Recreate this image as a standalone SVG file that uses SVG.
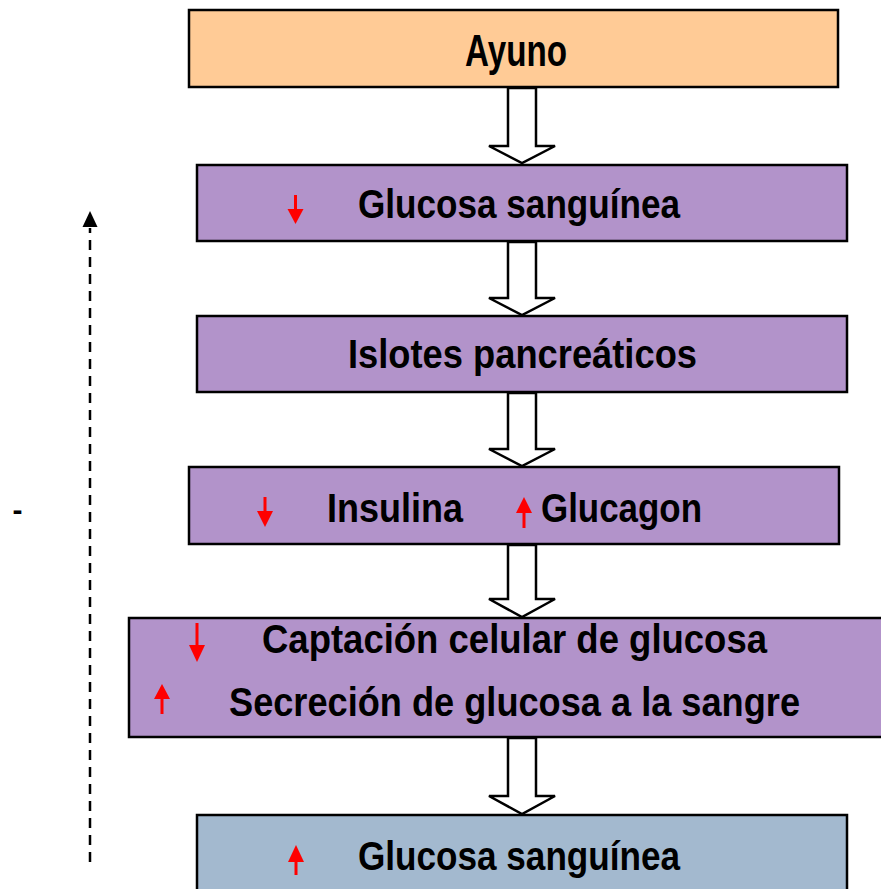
<svg xmlns="http://www.w3.org/2000/svg" width="881" height="889" viewBox="0 0 881 889">
<style>
.box{stroke:#000;stroke-width:2.5}
.orange{fill:#FFCB96}
.purple{fill:#B293CA}
.blue{fill:#A3B9CF}
.t{font-family:"Liberation Sans Narrow","Liberation Sans",sans-serif;font-weight:bold;font-size:40px;fill:#000}
.blk{fill:#fff;stroke:#000;stroke-width:2.5;stroke-linejoin:miter}
.red{stroke:#FF0000;stroke-width:3;fill:none}
.redh{fill:#FF0000}
</style>
<rect width="881" height="889" fill="#fff"/>
<g id="ayuno">
<rect class="box orange" x="189" y="10" width="649" height="77"/>
<text class="t" x="465" y="66" style="font-size:45px" textLength="102" lengthAdjust="spacingAndGlyphs">Ayuno</text>
</g>
<g id="glucosa1">
<rect class="box purple" x="197" y="165" width="650" height="76"/>
<line class="red" x1="295.5" y1="195" x2="295.5" y2="210"/>
<polygon class="redh" points="287.5,209 303.5,209 295.5,224"/>
<text class="t" x="358" y="218" textLength="322" lengthAdjust="spacingAndGlyphs">Glucosa sanguínea</text>
</g>
<g id="islotes">
<rect class="box purple" x="197" y="316" width="650" height="76"/>
<text class="t" x="348" y="368" textLength="349" lengthAdjust="spacingAndGlyphs">Islotes pancreáticos</text>
</g>
<g id="hormonas">
<rect class="box purple" x="189" y="467" width="650" height="77"/>
<line class="red" x1="265" y1="497" x2="265" y2="512"/>
<polygon class="redh" points="257,511 273,511 265,527"/>
<text class="t" x="327" y="522" textLength="136" lengthAdjust="spacingAndGlyphs">Insulina</text>
<line class="red" x1="524" y1="512" x2="524" y2="528"/>
<polygon class="redh" points="516,513 532,513 524,497"/>
<text class="t" x="541" y="522" textLength="161" lengthAdjust="spacingAndGlyphs">Glucagon</text>
</g>
<g id="captacion">
<rect class="box purple" x="129" y="618" width="770" height="119"/>
<line class="red" x1="197" y1="623" x2="197" y2="646"/>
<polygon class="redh" points="189,645 205,645 197,662"/>
<text class="t" x="262" y="653" textLength="505" lengthAdjust="spacingAndGlyphs">Captación celular de glucosa</text>
<line class="red" x1="162" y1="698" x2="162" y2="714"/>
<polygon class="redh" points="154,699 170,699 162,684"/>
<text class="t" x="229" y="716" textLength="571" lengthAdjust="spacingAndGlyphs">Secreción de glucosa a la sangre</text>
</g>
<g id="glucosa2">
<rect class="box blue" x="197" y="815" width="650" height="90"/>
<line class="red" x1="296" y1="861" x2="296" y2="875"/>
<polygon class="redh" points="288,862 304,862 296,845"/>
<text class="t" x="358" y="870" textLength="322" lengthAdjust="spacingAndGlyphs">Glucosa sanguínea</text>
</g>
<g id="connectors">
<path class="blk" d="M508 88 L536 88 L536 146 L555 146 L522 163 L489 146 L508 146 Z"/>
<path class="blk" d="M508 242 L536 242 L536 298 L555 298 L522 315 L489 298 L508 298 Z"/>
<path class="blk" d="M508 393 L536 393 L536 449 L555 449 L522 466 L489 449 L508 449 Z"/>
<path class="blk" d="M508 545 L536 545 L536 599 L555 599 L522 617 L489 599 L508 599 Z"/>
<path class="blk" d="M508 738 L536 738 L536 796 L555 796 L522 814 L489 796 L508 796 Z"/>
<line x1="90" y1="862" x2="90" y2="228" stroke="#000" stroke-width="2.5" stroke-dasharray="10 7"/>
<polygon points="90,211 82.5,227 97.5,227" fill="#000"/>
</g>
<text x="17.5" y="520" font-family="Liberation Sans,sans-serif" font-weight="bold" font-size="30" text-anchor="middle" fill="#000">-</text>
</svg>
